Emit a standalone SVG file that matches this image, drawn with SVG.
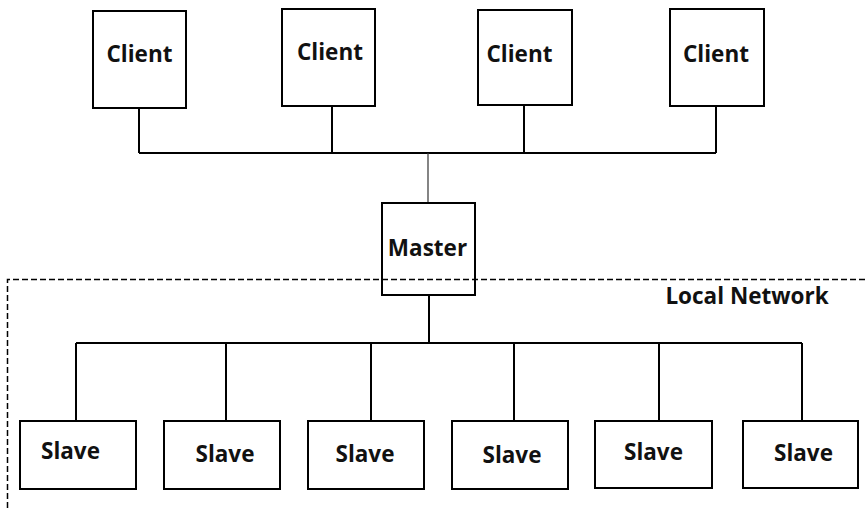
<svg xmlns="http://www.w3.org/2000/svg" width="868" height="508" viewBox="0 0 868 508">
<style>
.box{fill:#fff;stroke:#000;stroke-width:2}
.lbl{font-family:"Open Sans","Noto Sans",sans-serif;font-weight:bold;font-size:22.5px;fill:#111;text-anchor:middle}
.wire{fill:none;stroke:#000;stroke-width:2}
.thin{fill:none;stroke:#333;stroke-width:1.2}
.dash{fill:none;stroke:#000;stroke-width:1.5;stroke-dasharray:6,3}
</style>
<rect width="868" height="508" fill="#fff"/>
<g id="connectors">
<path class="wire" d="M139,108 V153 M332,106 V153 M524,105 V153 M716,106 V153 M139,153 H716"/>
<path class="thin" d="M428,153 V203"/>
<path class="wire" d="M429,295 V343 M76,343 H802 M76,343 V421 M226,343 V421 M371,343 V421 M514,343 V421 M659,343 V421 M802,343 V421"/>
</g>
<g id="client1"><rect class="box" x="93" y="11" width="93" height="97"/><text class="lbl" x="139.5" y="62">Client</text></g>
<g id="client2"><rect class="box" x="282" y="9" width="93" height="97"/><text class="lbl" x="330" y="60">Client</text></g>
<g id="client3"><rect class="box" x="478" y="10" width="94" height="95"/><text class="lbl" x="519.5" y="62">Client</text></g>
<g id="client4"><rect class="box" x="670" y="9" width="94" height="97"/><text class="lbl" x="716" y="62">Client</text></g>
<g id="master"><rect class="box" x="382" y="203" width="93" height="92" style="fill:none"/><text class="lbl" x="427.5" y="256">Master</text></g>
<g id="local-network"><path class="dash" d="M7.5,508 V279.5 H868"/><text class="lbl" x="747" y="304">Local Network</text></g>
<g id="slave1"><rect class="box" x="20" y="421" width="116" height="68"/><text class="lbl" x="70.5" y="459">Slave</text></g>
<g id="slave2"><rect class="box" x="164" y="421" width="116" height="68"/><text class="lbl" x="225" y="462">Slave</text></g>
<g id="slave3"><rect class="box" x="308" y="421" width="116" height="68"/><text class="lbl" x="365" y="462">Slave</text></g>
<g id="slave4"><rect class="box" x="452" y="421" width="116" height="68"/><text class="lbl" x="512" y="463">Slave</text></g>
<g id="slave5"><rect class="box" x="595" y="421" width="117" height="67"/><text class="lbl" x="653.5" y="460">Slave</text></g>
<g id="slave6"><rect class="box" x="743" y="421" width="115" height="67"/><text class="lbl" x="803.5" y="461">Slave</text></g>
</svg>
